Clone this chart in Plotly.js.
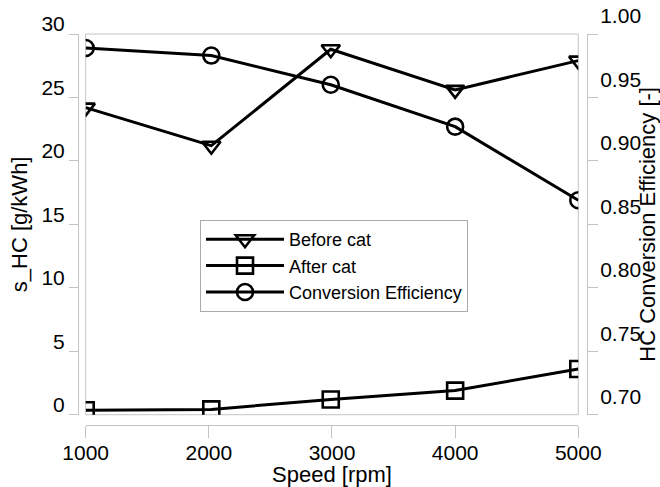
<!DOCTYPE html>
<html>
<head>
<meta charset="utf-8">
<script src="https://cdn.plot.ly/plotly-3.0.1.min.js"></script>
<style>html,body{margin:0;padding:0;background:#fff;}#chart{width:660px;height:487px;}</style>
</head>
<body>
<div id="chart"></div>
<script>
// Data
const speed = [1000, 2020, 2990, 4000, 5000];
const beforeCat = [24.2, 21.2, 28.8, 25.6, 27.9];
const afterCat = [0.35, 0.42, 1.2, 1.9, 3.6];
const convEff = [0.989, 0.983, 0.960, 0.927, 0.869];
const seriesNames = ['Before cat', 'After cat', 'Conversion Efficiency'];
const xTicks = [1000, 2000, 3000, 4000, 5000];
const yTicks = [0, 5, 10, 15, 20, 25, 30];
const y2Ticks = [0.70, 0.75, 0.80, 0.85, 0.90, 0.95, 1.00];

const FONT = 'Liberation Sans, Arial, sans-serif';
const GREY = '#c4c4c4';
const lineStyle = {color: '#000', width: 3};

function mk(sym) {
  return {symbol: sym, size: 16, color: '#000', line: {color: '#000', width: 2.6}};
}

const traces = [
  {x: speed, y: beforeCat, name: seriesNames[0], mode: 'lines+markers', yaxis: 'y',
   line: lineStyle, marker: mk('triangle-down-open')},
  {x: speed, y: afterCat, name: seriesNames[1], mode: 'lines+markers', yaxis: 'y',
   line: lineStyle, marker: mk('square-open')},
  {x: speed, y: convEff, name: seriesNames[2], mode: 'lines+markers', yaxis: 'y2',
   line: lineStyle, marker: mk('circle-open')}
];

const layout = {
  width: 660, height: 487,
  margin: {l: 78, r: 73, t: 34, b: 62},
  paper_bgcolor: '#fff', plot_bgcolor: '#fff',
  font: {family: FONT, color: '#000', size: 21},
  showlegend: true,
  legend: {x: 0.2397, y: 0.5243, xanchor: 'left', yanchor: 'top',
    bgcolor: '#fff', bordercolor: '#aaa', borderwidth: 1,
    font: {family: FONT, size: 18, color: '#000'}, itemwidth: 78},
  xaxis: {
    domain: [0.0151, 0.9829], range: [1000, 5000], anchor: 'free', position: 0,
    tickvals: xTicks, ticks: 'outside', ticklen: 12, tickcolor: GREY, tickwidth: 1,
    showline: true, linecolor: GREY, linewidth: 1, showgrid: false, zeroline: false,
    tickfont: {size: 21}, ticklabelstandoff: -3,
    title: {text: 'Speed [rpm]', font: {size: 22}, standoff: 0}
  },
  yaxis: {
    domain: [0.0263, 1], range: [0, 30], anchor: 'free', position: 0, side: 'left',
    tickvals: yTicks, ticks: 'outside', ticklen: 9, tickcolor: GREY, tickwidth: 1,
    showline: true, linecolor: GREY, linewidth: 1, showgrid: false, zeroline: false,
    tickfont: {size: 21}, ticklabelshift: -10,
    title: {text: 's_HC [g/kWh]', font: {size: 22}, standoff: 6}
  },
  yaxis2: {
    overlaying: 'y', side: 'right', anchor: 'free', position: 1, range: [0.7, 1.0],
    tickvals: y2Ticks, tickformat: '.2f', ticks: 'outside', ticklen: 10, tickcolor: GREY, tickwidth: 1,
    showline: true, linecolor: GREY, linewidth: 1, showgrid: false, zeroline: false,
    tickfont: {size: 21}, ticklabelshift: -18, ticklabelstandoff: -2,
    title: {text: 'HC Conversion Efficiency [-]', font: {size: 22}, standoff: 0}
  },
  shapes: [
    {type: 'rect', xref: 'x domain', yref: 'y domain', x0: 0, x1: 1, y0: 0, y1: 1,
     line: {color: GREY, width: 1}, fillcolor: 'rgba(0,0,0,0)', layer: 'below'}
  ]
};

Plotly.newPlot('chart', traces, layout, {displayModeBar: false, staticPlot: true});
</script>
</body>
</html>
